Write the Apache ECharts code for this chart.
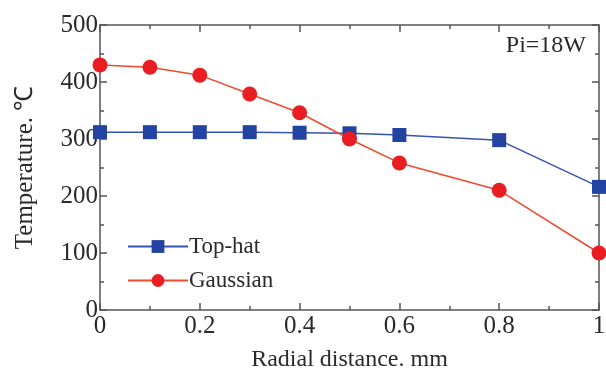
<!DOCTYPE html>
<html>
<head>
<meta charset="utf-8">
<script src="https://cdn.jsdelivr.net/npm/echarts@6/dist/echarts.min.js"></script>
<style>
html, body { margin: 0; padding: 0; background: #fff; }
#chart { width: 606px; height: 377px; }
</style>
</head>
<body>
<div id="chart"></div>
<script>
const radial = [0, 0.1, 0.2, 0.3, 0.4, 0.5, 0.6, 0.8, 1];
const topHat = [312, 312, 312, 312, 311, 310, 307, 298, 216];
const gaussian = [430, 426, 412, 379, 346, 300, 258, 210, 100];

const FONT = "Liberation Serif";
const AXIS_COLOR = "#555";
const TEXT_COLOR = "#2a2a2a";

const chart = echarts.init(document.getElementById("chart"), null, { renderer: "canvas" });

const pairs = (ys) => radial.map((x, i) => [x, ys[i]]);

const axisBase = {
	axisLine: { show: true, onZero: false, lineStyle: { color: AXIS_COLOR, width: 1.5 } },
	axisTick: { show: true, inside: true, length: 7, lineStyle: { color: AXIS_COLOR, width: 1.5 } },
	minorTick: { show: true, splitNumber: 2, length: 4, lineStyle: { color: AXIS_COLOR, width: 1.5 } },
	splitLine: { show: false },
	minorSplitLine: { show: false },
};

const option = {
	animation: false,
	backgroundColor: "#fff",
	grid: { left: 100, right: 7, top: 25, bottom: 67, containLabel: false, outerBoundsMode: "none" },
	xAxis: [
		{
			...axisBase,
			type: "value",
			min: 0,
			max: 1,
			interval: 0.2,
			name: "Radial distance. mm",
			nameLocation: "middle",
			nameGap: 38,
			nameTextStyle: { fontFamily: FONT, fontSize: 24, color: TEXT_COLOR },
			axisLabel: { fontFamily: FONT, fontSize: 25, color: TEXT_COLOR, margin: 4 },
		},
		{
			...axisBase,
			type: "value",
			position: "top",
			min: 0,
			max: 1,
			interval: 0.2,
			axisLabel: { show: false },
		},
	],
	yAxis: [
		{
			...axisBase,
			type: "value",
			min: 0,
			max: 500,
			interval: 100,
			name: "Temperature. ℃",
			nameLocation: "middle",
			nameGap: 62,
			nameTextStyle: { fontFamily: FONT, fontSize: 25, color: TEXT_COLOR },
			axisLabel: { fontFamily: FONT, fontSize: 25, color: TEXT_COLOR, margin: 2 },
		},
		{
			...axisBase,
			type: "value",
			position: "right",
			min: 0,
			max: 500,
			interval: 100,
			axisLabel: { show: false },
		},
	],
	legend: {
		orient: "vertical",
		left: 122,
		top: 230,
		itemWidth: 60,
		itemHeight: 16,
		itemGap: 11,
		textStyle: { fontFamily: FONT, fontSize: 23, color: TEXT_COLOR, padding: [0, 0, 0, -4] },
		data: ["Top-hat", "Gaussian"],
	},
	graphic: [
		{
			type: "text",
			right: 20,
			top: 34,
			style: { text: "Pi=18W", fontFamily: FONT, fontSize: 24, fill: TEXT_COLOR },
		},
	],
	series: [
		{
			name: "Top-hat",
			type: "line",
			data: pairs(topHat),
			symbol: "rect",
			symbolSize: 14,
			color: "#2343a3",
			lineStyle: { color: "#3553b0", width: 1.5 },
			itemStyle: { color: "#2343a3" },
			z: 3,
		},
		{
			name: "Gaussian",
			type: "line",
			data: pairs(gaussian),
			symbol: "circle",
			symbolSize: 15,
			color: "#e81e22",
			lineStyle: { color: "#f04a2e", width: 1.5 },
			itemStyle: { color: "#e81e22" },
			z: 4,
		},
	],
};

chart.setOption(option);
</script>
</body>
</html>
